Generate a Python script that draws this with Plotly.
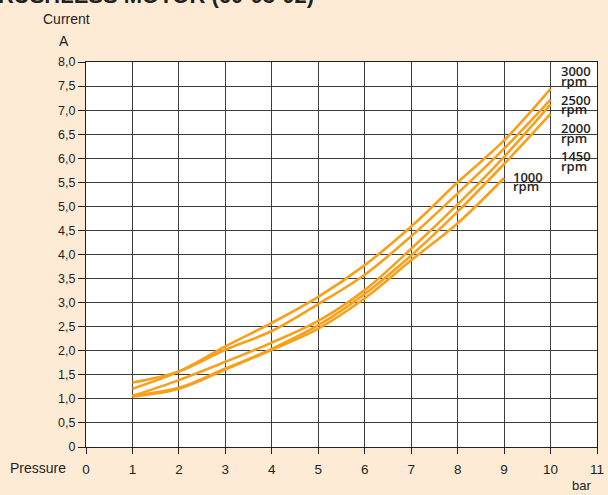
import plotly.graph_objects as go

pressure = [1, 2, 3, 4, 5, 6, 7, 8, 9, 10]
current_3000 = [1.21, 1.57, 2.09, 2.58, 3.12, 3.78, 4.58, 5.50, 6.37, 7.44]
current_2500 = [1.34, 1.57, 2.02, 2.41, 2.97, 3.58, 4.38, 5.27, 6.20, 7.22]
current_2000 = [1.06, 1.39, 1.77, 2.17, 2.62, 3.26, 4.12, 5.04, 6.03, 7.12]
current_1450 = [1.07, 1.23, 1.63, 2.04, 2.53, 3.18, 3.98, 4.89, 5.88, 6.92]
pressure_1000 = [1, 2, 3, 4, 5, 6, 7, 8, 9]
current_1000 = [1.05, 1.21, 1.61, 2.02, 2.46, 3.09, 3.88, 4.65, 5.59]

series = [("3000", pressure, current_3000), ("2500", pressure, current_2500),
          ("2000", pressure, current_2000), ("1450", pressure, current_1450),
          ("1000", pressure_1000, current_1000)]

y_ticks = [i * 0.5 for i in range(17)]
y_labels = ["0"] + [f"{v:.1f}".replace(".", ",") for v in y_ticks[1:]]
x_ticks = list(range(12))

W, H = 608, 495
L, R, T, B = 86, 11, 62, 48
PW, PH = W - L - R, H - T - B
BG = "#FDEBD6"
ORANGE = "#F7A01C"
INK = "#231F20"
GRID = "#3c3c3c"
SANS = "Liberation Sans, Arial, sans-serif"
LABF = "Open Sans, Liberation Sans, sans-serif"

def px(x):
    return (x - L) / PW

def py(y):
    return (H - B - y) / PH

fig = go.Figure()
for name, xs, ys in series:
    fig.add_trace(go.Scatter(x=xs, y=ys, mode="lines", name=name + " rpm",
                             line=dict(color=ORANGE, width=2.6, shape="spline", smoothing=1.0),
                             showlegend=False, hoverinfo="x+y+name"))

ann = []
rpm_labels = [("3000", 10.18, 7.81, 7.61), ("2500", 10.18, 7.22, 7.02),
              ("2000", 10.18, 6.62, 6.42), ("1450", 10.18, 6.04, 5.84),
              ("1000", 9.14, 5.62, 5.42)]
for num, x0, yn, yr in rpm_labels:
    ann.append(dict(x=x0, y=yn, xref="x", yref="y", text=num, showarrow=False,
                    xanchor="left", yanchor="middle",
                    font=dict(family=LABF, size=13, color=INK, weight=600)))
    ann.append(dict(x=x0, y=yr, xref="x", yref="y", text="rpm", showarrow=False,
                    xanchor="left", yanchor="middle",
                    font=dict(family=LABF, size=13, color=INK, weight=600)))

ann += [
    dict(x=px(316), y=py(-5), xref="paper", yref="paper", text="<b>BRUSHLESS MOTOR (60-03-02)</b>",
         showarrow=False, xanchor="right", yanchor="middle",
         font=dict(family=SANS, size=22, color=INK)),
    dict(x=px(66), y=py(19), xref="paper", yref="paper", text="Current", showarrow=False,
         xanchor="center", yanchor="middle", font=dict(family=SANS, size=14, color=INK)),
    dict(x=px(64), y=py(41), xref="paper", yref="paper", text="A", showarrow=False,
         xanchor="center", yanchor="middle", font=dict(family=SANS, size=14, color=INK)),
    dict(x=px(68), y=py(468), xref="paper", yref="paper", text="Pressure", showarrow=False,
         xanchor="right", yanchor="middle", font=dict(family=SANS, size=14, color=INK)),
    dict(x=px(593), y=py(486), xref="paper", yref="paper", text="bar", showarrow=False,
         xanchor="right", yanchor="middle", font=dict(family=SANS, size=13, color=INK)),
]

fig.update_layout(
    width=W, height=H,
    margin=dict(l=L, r=R, t=T, b=B, pad=0),
    paper_bgcolor=BG, plot_bgcolor="white",
    annotations=ann,
    xaxis=dict(range=[0, 11], tickvals=x_ticks, ticktext=[str(v) for v in x_ticks],
               automargin=False,
               showgrid=True, gridcolor=GRID, gridwidth=1, zeroline=False,
               showline=True, linecolor=INK, linewidth=1, mirror=True,
               ticks="outside", ticklen=6, tickcolor=INK, ticklabelstandoff=4,
               tickfont=dict(family=SANS, size=13.5, color=INK)),
    yaxis=dict(range=[0, 8], tickvals=y_ticks, ticktext=y_labels,
               automargin=False,
               showgrid=True, gridcolor=GRID, gridwidth=1, zeroline=False,
               showline=True, linecolor=INK, linewidth=1, mirror=True,
               ticks="outside", ticklen=7, tickcolor=INK,
               tickfont=dict(family=SANS, size=12.5, color=INK)),
)

fig.write_html("out.html", config={"displayModeBar": False},
               post_script="document.body.style.margin='0';document.body.style.padding='0';document.body.style.overflow='hidden';")
